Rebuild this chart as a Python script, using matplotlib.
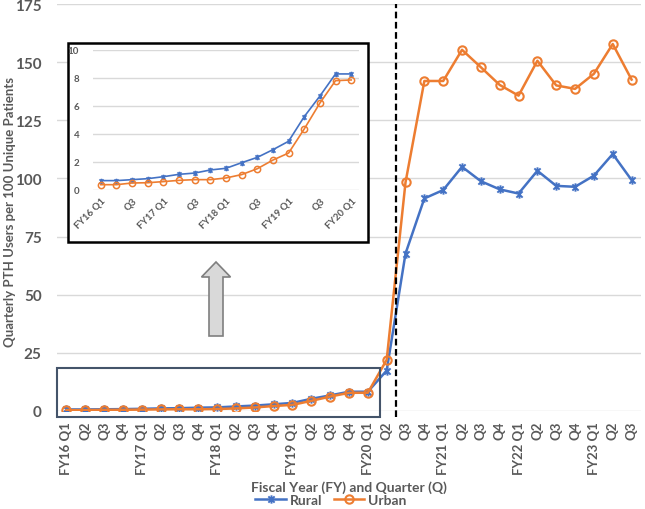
import matplotlib
matplotlib.use("Agg")
import matplotlib.pyplot as plt
from matplotlib.path import Path
from matplotlib.patches import Rectangle, Polygon

# quarters FY16 Q1 .. FY23 Q3
years = ["FY16", "FY17", "FY18", "FY19", "FY20", "FY21", "FY22", "FY23"]
quarters = [f"{y} Q{q}" for y in years for q in range(1, 5)][:31]
tick_labels = [q if q.endswith("Q1") else q.split()[1] for q in quarters]

rural = [0.67, 0.67, 0.74, 0.81, 0.95, 1.12, 1.21, 1.43, 1.55, 1.95, 2.33, 2.88,
         3.48, 5.24, 6.71, 8.29, 8.29, 17.4, 67.7, 91.4, 95.0, 105.0, 98.8, 95.3,
         93.5, 103.3, 96.8, 96.4, 101.2, 110.5, 99.3]
urban = [0.38, 0.38, 0.50, 0.52, 0.60, 0.69, 0.74, 0.74, 0.86, 1.10, 1.52, 2.14,
         2.64, 4.36, 6.21, 7.81, 7.86, 22.0, 98.3, 141.9, 141.9, 155.3, 147.8, 140.2,
         135.6, 150.6, 140.0, 138.5, 145.0, 157.8, 142.5]

n_inset = 17  # FY16 Q1 .. FY20 Q1
inset_labels = ["FY16 Q1", "Q3", "FY17 Q1", "Q3", "FY18 Q1", "Q3", "FY19 Q1", "Q3", "FY20 Q1"]

BLUE = "#4472C4"
ORANGE = "#ED7D31"
GRAY = "#595959"
GRID = "#D9D9D9"
FONT = "Lato"

W, H = 645, 510


def px(x, y):
    return x / W, 1 - y / H


star = Path([(0, -1), (0, 1), (-0.75, -0.75), (0.75, 0.75), (-0.75, 0.75), (0.75, -0.75)],
            [Path.MOVETO, Path.LINETO] * 3)

fig = plt.figure(figsize=(6.45, 5.10), dpi=100)
ax = fig.add_axes([57 / W, 1 - 412 / H, 584 / W, 407 / H])

x = list(range(len(quarters)))
ax.plot(x, rural, color=BLUE, lw=1.8, marker=star, ms=6, mew=1.4, mec=BLUE, label="Rural", zorder=3)
ax.plot(x, urban, color=ORANGE, lw=1.8, marker="o", ms=6, mfc="none", mew=1.5, mec=ORANGE,
        label="Urban", zorder=4)

ax.set_xlim(-0.5, len(quarters) - 0.5)
ax.set_ylim(0, 175)
ax.set_yticks(range(0, 176, 25))
ax.set_xticks(x)
ax.set_xticklabels(tick_labels, rotation=90, fontsize=9.5, fontweight="bold", color=GRAY,
                   family=FONT)
for lab in ax.get_yticklabels():
    lab.set_fontsize(11)
    lab.set_fontweight("bold")
    lab.set_color(GRAY)
    lab.set_family(FONT)
ax.tick_params(axis="both", length=0)
ax.tick_params(axis="y", pad=11)
ax.tick_params(axis="x", pad=7)
ax.grid(axis="y", color=GRID, lw=1)
ax.set_axisbelow(True)
for s in ax.spines.values():
    s.set_visible(False)

fig.text(*px(10, 212), "Quarterly PTH Users per 100 Unique Patients", rotation=90,
         ha="center", va="center", fontsize=9.5, fontweight="bold", color=GRAY, family=FONT,
         zorder=5)
fig.text(*px(349, 488), "Fiscal Year (FY) and Quarter (Q)", ha="center", va="center",
         fontsize=10, fontweight="bold", color=GRAY, family=FONT)

# dashed separator and highlight box
ax.vlines(17.5, -2.5, 175, colors="black", linestyles=(0, (3, 1.6)), lw=1.6, clip_on=False,
          zorder=5)
ax.add_patch(Rectangle((-0.5, -2.6), 17.15, 21.1, fill=False, ec="#44546A", lw=1.5,
                       clip_on=False, zorder=6))

leg = ax.legend(loc="center", bbox_to_anchor=px(331, 501), bbox_transform=fig.transFigure,
                ncol=2, frameon=False, handlelength=2.2, columnspacing=0.8, handletextpad=0.3,
                prop={"family": FONT, "weight": "bold", "size": 10})
for t in leg.get_texts():
    t.set_color(GRAY)

# inset frame and arrow
x0, y0 = px(68, 243)
fig.patches.append(Rectangle((x0, y0), 300 / W, 199 / H, transform=fig.transFigure,
                             fc="white", ec="black", lw=1.8, zorder=1))
arrow_px = [(209, 337), (209, 278), (201.5, 278), (216, 263), (230.5, 278), (223, 278), (223, 337)]
fig.patches.append(Polygon([px(a, b) for a, b in arrow_px], closed=True,
                           transform=fig.transFigure, fc="#D9D9D9", ec="#7F7F7F", lw=1.2,
                           zorder=1))

ins = fig.add_axes([93 / W, 1 - 191 / H, 266 / W, 140 / H])
ins.set_zorder(3)
ins.patch.set_alpha(0)
xi = list(range(n_inset))
ins.plot(xi, rural[:n_inset], color=BLUE, lw=1.2, marker=star, ms=4, mew=1.1, mec=BLUE)
ins.plot(xi, urban[:n_inset], color=ORANGE, lw=1.2, marker="o", ms=4.5, mfc="none", mew=1.1,
         mec=ORANGE)
ins.set_xlim(-0.5, n_inset - 0.5)
ins.set_ylim(0, 10)
ins.set_yticks(range(0, 11, 2))
ins.set_xticks(range(0, n_inset, 2))
ins.set_xticklabels(inset_labels, rotation=45, ha="right", rotation_mode="anchor",
                    fontsize=7, fontweight="bold", color=GRAY, family=FONT)
for lab in ins.get_yticklabels():
    lab.set_fontsize(7)
    lab.set_fontweight("bold")
    lab.set_color(GRAY)
    lab.set_family(FONT)
ins.tick_params(axis="both", length=0)
ins.tick_params(axis="y", pad=10)
ins.tick_params(axis="x", pad=4)
ins.grid(axis="y", color=GRID, lw=1)
ins.set_axisbelow(True)
for s in ins.spines.values():
    s.set_visible(False)

fig.savefig("out.png", dpi=100)
